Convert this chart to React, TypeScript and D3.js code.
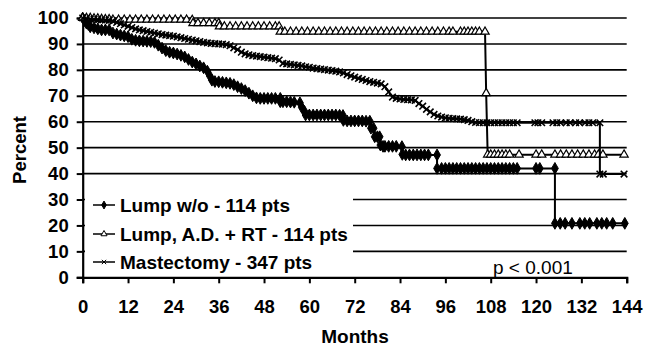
import React, { useEffect, useRef } from 'react';
import * as d3 from 'd3';

// Kaplan-Meier style curves, [month, percent] as plotted (corners included)
const lumpWo: [number, number][] = [
  [0, 100], [0.5, 99], [1, 98], [1.5, 97.5], [2, 96.6], [3, 96.2], [4, 95.8], [5, 95.4], [6, 95.4], [7, 95.4],
  [8, 94.2], [9, 93.8], [10, 93.4], [11, 93.1], [12, 92.8], [13, 91.8], [14, 91.4], [15, 91.2], [16, 91.1],
  [17, 91], [18, 90.9], [19, 90.6], [20, 89.5], [21, 88.4], [22, 87.4], [23, 86.8], [24, 86.5], [25, 86.1],
  [26, 85.6], [27, 85], [28, 84], [29, 83], [30, 82.3], [31, 81.5], [32, 80.8], [33, 79.5], [33.7, 77.5],
  [34.2, 76], [35, 75.5], [36, 75.4], [37, 75.2], [38, 75], [39, 74.8], [40, 74.3], [41, 73.5], [42, 72.8],
  [43, 72], [44, 71], [45, 70], [46, 69.2], [47, 69], [48, 69], [49, 69], [50, 69], [51, 69], [52.3, 69],
  [52.3, 67.7], [53, 67.7], [54, 67.7], [55, 67.6], [56, 67.5], [57.5, 67.3], [58, 65.5], [58.7, 64],
  [59, 62.6], [60, 62.6], [61, 62.6], [62, 62.6], [63, 62.6], [64, 62.6], [65, 62.6], [66, 62.6], [67, 62.6],
  [68, 62.5], [68.9, 62.4], [69, 60.5], [70, 60.3], [71, 60.3], [72, 60.3], [73, 60.3], [74, 60.3], [75, 60.2],
  [76, 60.2], [76.3, 57.5], [77, 57.5], [77.3, 54.2], [78, 54.2], [78.6, 54.2], [78.8, 51], [79.5, 50.5],
  [80, 50.5], [81, 50.5], [82, 50.5], [83, 50.5], [84.5, 50.4], [84.6, 47.4], [85.5, 47.2], [86.5, 47.2],
  [87.5, 47.2], [88.5, 47.2], [89.5, 47.2], [90.5, 47.2], [91.5, 47.2], [93.8, 47.2], [93.8, 42], [95, 42],
  [96, 42], [97, 42], [98, 42], [99, 42], [100, 42], [101, 42], [102, 42], [103, 42], [104, 42], [105, 42],
  [106, 42], [107, 42], [108, 42], [109, 42], [110, 42], [111, 42], [112, 42], [113, 42], [114, 42], [115, 42],
  [120, 42], [121, 42], [125, 42], [125, 20.8], [126.4, 20.8], [127.7, 20.8], [129.5, 20.8], [131.6, 20.8],
  [132.9, 20.8], [134.2, 20.8], [136.1, 20.8], [137.4, 20.8], [138.7, 20.8], [140.3, 20.8], [143.5, 20.8],
];

const lumpAdRt: [number, number][] = [
  [0, 100], [1, 100], [2, 100], [3, 99.8], [4, 99.8], [5, 99.6], [6, 99.5], [7, 99.5], [8, 99.3], [9.5, 99.3],
  [11, 99.3], [12.5, 99.3], [14, 99.3], [15.5, 99.3], [17, 99.3], [18.5, 99.3], [20, 99.3], [21.5, 99.3],
  [23, 99.3], [24.5, 99.3], [26, 99.3], [27.5, 99.3], [29, 99.2], [29.2, 98], [30.5, 98], [32, 98], [33.5, 98],
  [35, 98], [36, 98], [36.2, 96.7], [37.5, 96.7], [39, 96.7], [40.5, 96.7], [42, 96.7], [43.5, 96.7],
  [45, 96.7], [46.5, 96.7], [48, 96.7], [49.5, 96.7], [51, 96.7], [52, 96.7], [52.3, 94.7], [53.5, 94.7],
  [55, 94.7], [56.5, 94.7], [58, 94.7], [59.5, 94.7], [61, 94.7], [62.5, 94.7], [64, 94.7], [65.5, 94.7],
  [67, 94.7], [68.5, 94.7], [70, 94.7], [71.5, 94.7], [73, 94.7], [74.5, 94.7], [76, 94.7], [77.5, 94.7],
  [79, 94.7], [80.5, 94.7], [82, 94.7], [83.5, 94.7], [85, 94.7], [86.5, 94.7], [88, 94.7], [89.5, 94.7],
  [91, 94.7], [92.5, 94.7], [94, 94.7], [95.5, 94.7], [97, 94.7], [98, 94.7], [100, 94.7], [101, 94.7],
  [102, 94.7], [103, 94.7], [104, 94.7], [105, 94.7], [106.5, 94.7], [106.8, 71], [107.2, 47.3], [108, 47.3],
  [109, 47.3], [110, 47.3], [111, 47.3], [112, 47.3], [113, 47.3], [115.5, 47.3], [120, 47.3], [121.5, 47.3],
  [125, 47.3], [126.5, 47.3], [128, 47.3], [129.5, 47.3], [131, 47.3], [132.5, 47.3], [134, 47.3],
  [135.5, 47.3], [136.5, 47.3], [137.7, 47.3], [143.3, 47.3],
];

const mastectomy: [number, number][] = [
  [0, 100], [1, 99.8], [2, 99.6], [3, 99.5], [4, 99.4], [5, 99.3], [6, 99.2], [7, 99.1], [8, 98.8], [9, 98.3],
  [10, 97.8], [11, 97.3], [12, 96.8], [13, 96.3], [14, 95.8], [15, 95.4], [16, 95.1], [17, 94.8], [18, 94.5],
  [19, 94.2], [20, 93.9], [21, 93.6], [22, 93.4], [23, 93.2], [24, 93], [25, 92.7], [26, 92.4], [27, 92.1],
  [28, 91.8], [29, 91.5], [30, 91.2], [31, 90.9], [32, 90.6], [33, 90.4], [34, 90.2], [35, 90.1], [36, 90],
  [37, 89.9], [38, 89.7], [39, 89.3], [40, 88.5], [41, 87.8], [42, 86.8], [43, 86.2], [44, 85.8], [45, 85.5],
  [46, 85.3], [47, 85.1], [48, 84.9], [49, 84.7], [50, 84.5], [51, 84.3], [52, 83.8], [53, 82.5], [54, 82.3],
  [55, 82.1], [56, 81.9], [57, 81.7], [58, 81.5], [59, 81.2], [60, 81], [61, 80.7], [62, 80.5], [63, 80.3],
  [64, 80.1], [65, 79.9], [66, 79.7], [67, 79.5], [68, 79.2], [69, 78.8], [70, 78.2], [71, 77.7], [72, 77.2],
  [73, 76.7], [74, 76.3], [75, 75.9], [76, 75.5], [77, 75.2], [78, 74.9], [79, 74.6], [80, 73.5], [81, 71.5],
  [82, 69.5], [83, 69], [84, 68.8], [85, 68.6], [86, 68.5], [87, 68.4], [88, 68.2], [89, 67], [90, 66],
  [91, 64.8], [92, 63.8], [93, 62.8], [94, 62.2], [95, 61.8], [96, 61.5], [97, 61.3], [98, 61.2], [99, 61.1],
  [100, 61], [101, 60.8], [102, 60.5], [103, 60], [104, 59.7], [105, 59.6], [106, 59.6], [107, 59.6],
  [108, 59.6], [109, 59.6], [110, 59.6], [111, 59.6], [112, 59.6], [113, 59.6], [114, 59.6], [115, 59.6],
  [119.7, 59.6], [120.5, 59.6], [121.5, 59.6], [124.5, 59.6], [125.5, 59.6], [126.5, 59.6], [128, 59.6],
  [129, 59.6], [130.5, 59.6], [131.5, 59.6], [133, 59.6], [134, 59.6], [135, 59.6], [136.9, 59.6],
  [136.9, 39.8], [137.8, 39.8], [143.3, 39.8],
];

const seriesNames = ['Lump w/o - 114 pts', 'Lump, A.D. + RT - 114 pts', 'Mastectomy - 347 pts'];
const monthTicks = [0, 12, 24, 36, 48, 60, 72, 84, 96, 108, 120, 132, 144];
const percentTicks = [0, 10, 20, 30, 40, 50, 60, 70, 80, 90, 100];
const pValue = 'p < 0.001';

const FONT = '"Liberation Sans", Arial, Helvetica, sans-serif';

const App = () => {
  const svgRef = useRef<SVGSVGElement>(null);
  const width = 656;
  const height = 347;

  useEffect(() => {
    const svg = d3.select(svgRef.current);
    svg.selectAll('*').remove();

    const x = d3.scaleLinear().domain([0, 144]).range([82.7, 626.7]);
    const y = d3.scaleLinear().domain([0, 100]).range([277.3, 18]);

    const g = svg.append('g');

    // gridlines
    g.selectAll('line.grid')
      .data(percentTicks.filter((d) => d > 0))
      .join('line')
      .attr('class', 'grid')
      .attr('x1', x(0))
      .attr('x2', x(144))
      .attr('y1', (d) => y(d))
      .attr('y2', (d) => y(d))
      .attr('stroke', '#000')
      .attr('stroke-width', 1.6);

    // legend box (white, hides the lower gridlines)
    g.append('rect')
      .attr('x', 85)
      .attr('y', 186)
      .attr('width', 268)
      .attr('height', 88)
      .attr('fill', '#fff');

    // axes
    const xAxis = g.append('g')
      .attr('transform', `translate(0,${y(0)})`)
      .call(d3.axisBottom(x).tickValues(monthTicks).tickSize(6).tickPadding(17));
    const yAxis = g.append('g')
      .attr('transform', `translate(${x(0)},0)`)
      .call(d3.axisLeft(y).tickValues(percentTicks).tickSize(6).tickPadding(8));

    [xAxis, yAxis].forEach((ax) => {
      ax.select('.domain').attr('stroke', '#000').attr('stroke-width', 2.2);
      ax.selectAll('.tick line').attr('stroke', '#000').attr('stroke-width', 2);
      ax.selectAll('text')
        .attr('fill', '#000')
        .style('font-family', FONT)
        .style('font-weight', 'bold')
        .style('font-size', '18.5px');
    });

    // axis titles
    g.append('text')
      .attr('x', 355)
      .attr('y', 343)
      .attr('text-anchor', 'middle')
      .style('font-family', FONT)
      .style('font-weight', 'bold')
      .style('font-size', '19px')
      .text('Months');
    g.append('text')
      .attr('transform', `translate(26,150) rotate(-90)`)
      .attr('text-anchor', 'middle')
      .style('font-family', FONT)
      .style('font-weight', 'bold')
      .style('font-size', '18.5px')
      .text('Percent');

    g.append('text')
      .attr('x', 493)
      .attr('y', 274)
      .style('font-family', FONT)
      .style('font-size', '19px')
      .text(pValue);

    const line = d3.line<[number, number]>()
      .x((d) => x(d[0]))
      .y((d) => y(d[1]));

    const diamond = d3.symbol().type(d3.symbolDiamond).size(40);
    const triangle = d3.symbol().type(d3.symbolTriangle).size(30);
    const cross = d3.symbol().type(d3.symbolX).size(30);

    const series = [
      { data: lumpWo, sym: diamond, fill: '#000', sw: 1 },
      { data: lumpAdRt, sym: triangle, fill: '#fff', sw: 1.2 },
      { data: mastectomy, sym: cross, fill: 'none', sw: 1.6 },
    ];

    series.forEach((s) => {
      g.append('path')
        .datum(s.data)
        .attr('d', line)
        .attr('fill', 'none')
        .attr('stroke', '#000')
        .attr('stroke-width', 2);
      g.append('g')
        .selectAll('path')
        .data(s.data)
        .join('path')
        .attr('transform', (d) => `translate(${x(d[0])},${y(d[1])})`)
        .attr('d', s.sym() as string)
        .attr('fill', s.fill)
        .attr('stroke', '#000')
        .attr('stroke-width', s.sw);
    });

    // legend entries
    const legend = g.append('g');
    const legendY = [205, 234, 262];
    const smallSyms = [
      d3.symbol().type(d3.symbolDiamond).size(18),
      d3.symbol().type(d3.symbolTriangle).size(16),
      d3.symbol().type(d3.symbolX).size(14),
    ];
    seriesNames.forEach((name, i) => {
      legend.append('line')
        .attr('x1', 93)
        .attr('x2', 115)
        .attr('y1', legendY[i])
        .attr('y2', legendY[i])
        .attr('stroke', '#000')
        .attr('stroke-width', 1.5);
      legend.append('path')
        .attr('transform', `translate(104,${legendY[i]})`)
        .attr('d', smallSyms[i]() as string)
        .attr('fill', series[i].fill)
        .attr('stroke', '#000')
        .attr('stroke-width', 1);
      legend.append('text')
        .attr('x', 120)
        .attr('y', legendY[i] + 7)
        .style('font-family', FONT)
        .style('font-weight', 'bold')
        .style('font-size', '19px')
        .text(name);
    });
  }, []);

  return (
    <svg
      ref={svgRef}
      width={width}
      height={height}
      style={{ position: 'absolute', left: 0, top: 0, background: '#fff' }}
    />
  );
};

export default App;
